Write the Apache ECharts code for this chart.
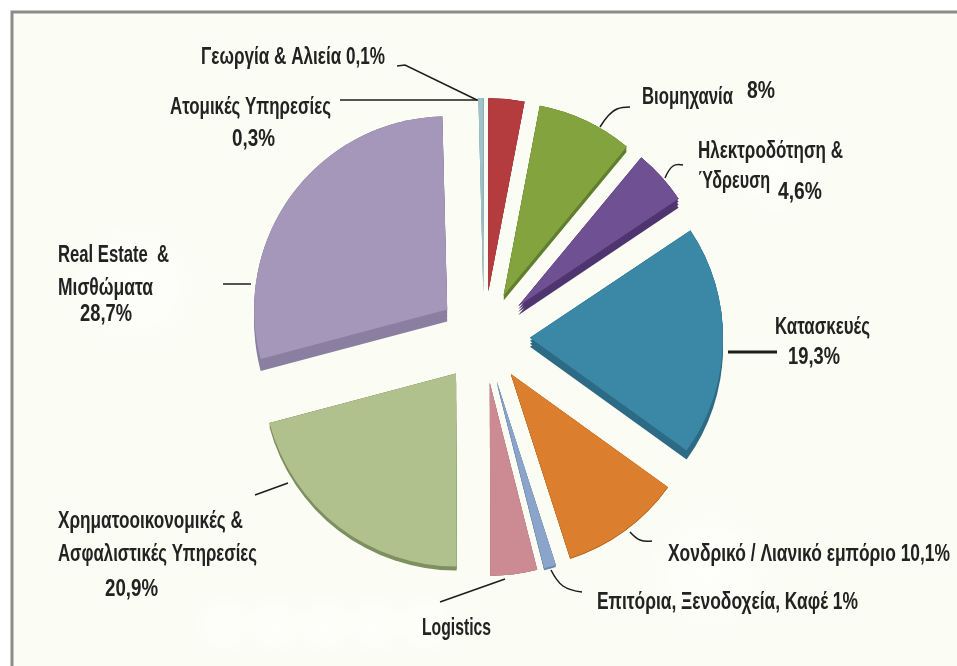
<!DOCTYPE html>
<html>
<head>
<meta charset="utf-8">
<style>html,body{margin:0;padding:0;background:#fff}#c{width:957px;height:666px}</style>
<script src="https://cdn.jsdelivr.net/npm/echarts@6/dist/echarts.min.js"></script>
</head>
<body>
<div id="c"></div>
<script>
const categories = ['Ορυχεία','Βιομηχανία','Ηλεκτροδότηση & Ύδρευση','Κατασκευές','Χονδρικό / Λιανικό εμπόριο','Επιτόρια, Ξενοδοχεία, Καφέ','Logistics','Χρηματοοικονομικές & Ασφαλιστικές Υπηρεσίες','Real Estate & Μισθώματα','Ατομικές Υπηρεσίες','Γεωργία & Αλιεία'];
const values = [3.0, 8, 4.6, 19.3, 10.1, 1, 3.9, 20.9, 28.7, 0.3, 0.1];
const colors = ['#b53c3e','#83a33f','#6f5092','#3a87a6','#db7f2e','#8aa5c9','#cc8a92','#b1c18e','#a497ba','#9fc3ca','#8fb5bd'];
const edgeColors = ['#8e2d2f','#5f7e2e','#4f3570','#2c6a86','#b56520','#6d86a8','#a86c74','#7f9060','#8a7fa0','#7f9fa6','#7f9fa6'];
const depths = [0, 5, 9, 9, 1, 2, 0, 4, 12, 0, 0];
const textLines = ['Γεωργία & Αλιεία 0,1%','Ατομικές Υπηρεσίες','0,3%','Βιομηχανία','8%','Ηλεκτροδότηση &','Ύδρευση','4,6%','Κατασκευές','19,3%','Χονδρικό / Λιανικό εμπόριο 10,1%','Επιτόρια, Ξενοδοχεία, Καφέ 1%','Logistics','Χρηματοοικονομικές &','Ασφαλιστικές Υπηρεσίες','20,9%','Real Estate  &','Μισθώματα','28,7%'];
const textBoxes = [[201,385,58],[170,331,108],[232,275,140],[642,733,98],[747,775,92],[698,843,152],[698,770,182],[778,822,193],[775,870,328],[788,840,358],[668,950,555],[597,858,603],[422,491,629],[58,243,522],[58,257,555],[105,158,590],[58,169,256],[58,153,289],[80,132,315]];
const leaders = [
  {p:[[397,66],[405,65],[477,100]],w:1.5,s:false},
  {p:[[340,100],[478,100]],w:1.5,s:false},
  {p:[[630,107],[617,109],[608,116],[600,127]],w:1.5,s:true},
  {p:[[683,165],[673,166],[665,178]],w:1.5,s:true},
  {p:[[728,352],[777,352]],w:3,s:false},
  {p:[[630,532],[640,540],[652,541]],w:1.5,s:true},
  {p:[[551,570],[563,586],[582,592]],w:1.5,s:true},
  {p:[[505,579],[440,602]],w:1.5,s:false},
  {p:[[288,483],[255,495]],w:1.5,s:false},
  {p:[[223,284],[251,284]],w:1.5,s:false}
];
const patches = [[30,215,210,140],[190,590,70,70],[240,590,70,70],[290,590,70,70],[340,590,70,70],[390,590,70,70],[600,500,220,140],[680,120,190,100]];
const depthLayers = [0.33, 0.66];
const FONT = '"Liberation Sans",sans-serif';
const FONT_SIZE = 23;
const fontSpec = 'bold '+FONT_SIZE+'px '+FONT;
const mctx = document.createElement('canvas').getContext('2d');
mctx.font = fontSpec;
const softWhite = {type:'radial',x:0.5,y:0.5,r:0.5,colorStops:[
  {offset:0,color:'rgba(255,255,255,0.7)'},{offset:0.6,color:'rgba(255,255,255,0.5)'},{offset:1,color:'rgba(255,255,255,0)'}]};
const chart = echarts.init(document.getElementById('c'), null, {renderer:'canvas'});
const graphics = [
  {type:'rect', z:0, shape:{x:12,y:12,width:960,height:670}, style:{fill:'#fbfcf3',stroke:'#8c8c8c',lineWidth:3}}
].concat(patches.map(r=>({type:'rect', z:0, shape:{x:r[0],y:r[1],width:r[2],height:r[3]}, style:{fill:softWhite}})))
 .concat(leaders.map(l=>({type:'polyline', z:20, shape:{points:l.p,smooth:l.s?0.4:0}, style:{stroke:'#1d1d1d',lineWidth:l.w,fill:null}})))
 .concat(textLines.map((t,i)=>{
   const b = textBoxes[i];
   return {type:'text', z:20, x:b[0], y:b[2], scaleX:(b[1]-b[0])/mctx.measureText(t).width,
     style:{x:0,y:0,text:t,font:fontSpec,fill:'#222222',align:'left',verticalAlign:'middle'}};
 }));
function pieSeries(depthScale, useEdge, z){
  return {
    type:'pie', z:z,
    center:[484,337],
    radius:[0,193],
    startAngle:90,
    clockwise:true,
    selectedMode:'multiple',
    selectedOffset:46,
    avoidLabelOverlap:false,
    silent:true,
    label:{show:false},
    labelLine:{show:false},
    data:values.map((v,i)=>({
      name:categories[i], value:v, selected:true,
      itemStyle:{color:useEdge?edgeColors[i]:colors[i],shadowColor:edgeColors[i],shadowBlur:0,shadowOffsetX:0,shadowOffsetY:depths[i]*depthScale},
      emphasis:{disabled:true}
    }))
  };
}
chart.setOption({
  animation:false,
  backgroundColor:'#ffffff',
  graphic:graphics,
  series:depthLayers.map((d,k)=>pieSeries(d,true,3+k)).concat([pieSeries(1,false,6)])
});
</script>
</body>
</html>
